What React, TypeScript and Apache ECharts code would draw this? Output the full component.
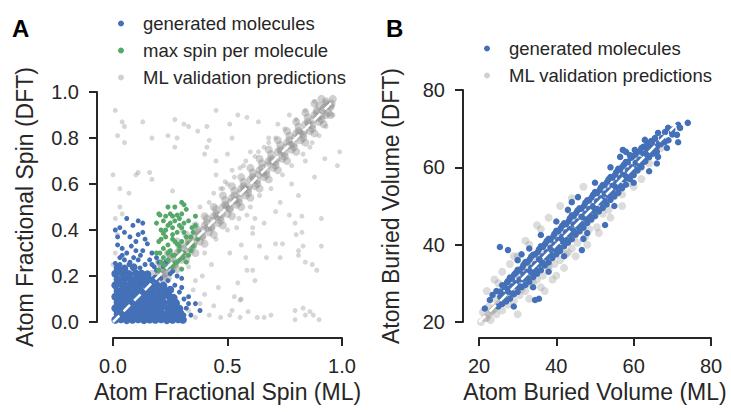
import React, { useEffect, useRef } from "react";
import * as echarts from "echarts";

// ---------- Panel A: Atom Fractional Spin (ML x, DFT y) ----------
const spinValidationBand = [
  [0.15,0.12],[0.16,0.18],[0.17,0.21],[0.18,0.15],[0.2,0.17],[0.2,0.22],[0.21,0.25],[0.22,0.19],
  [0.23,0.21],[0.24,0.26],[0.25,0.29],[0.26,0.23],[0.27,0.25],[0.28,0.3],[0.29,0.33],[0.3,0.27],
  [0.31,0.29],[0.32,0.33],[0.33,0.36],[0.34,0.31],[0.35,0.33],[0.36,0.37],[0.37,0.4],[0.38,0.35],
  [0.39,0.37],[0.4,0.42],[0.41,0.45],[0.42,0.39],[0.43,0.41],[0.44,0.46],[0.45,0.49],[0.46,0.43],
  [0.47,0.44],[0.48,0.5],[0.49,0.53],[0.5,0.47],[0.51,0.49],[0.52,0.54],[0.53,0.57],[0.54,0.51],
  [0.55,0.52],[0.56,0.58],[0.57,0.61],[0.58,0.55],[0.59,0.56],[0.6,0.62],[0.61,0.65],[0.62,0.59],
  [0.63,0.6],[0.64,0.66],[0.65,0.69],[0.66,0.63],[0.67,0.64],[0.68,0.7],[0.69,0.73],[0.7,0.67],
  [0.71,0.68],[0.72,0.74],[0.73,0.77],[0.74,0.71],[0.75,0.72],[0.76,0.78],[0.77,0.81],[0.78,0.75],
  [0.79,0.76],[0.8,0.82],[0.81,0.85],[0.82,0.79],[0.83,0.8],[0.84,0.86],[0.85,0.89],[0.86,0.83],
  [0.87,0.84],[0.88,0.9],[0.89,0.92],[0.9,0.87],[0.91,0.88],[0.92,0.93],[0.93,0.96],[0.94,0.91],
  [0.95,0.94],[0.96,0.97],[0.93,0.9],[0.9,0.94],
  [0.155,0.16],[0.175,0.17],[0.195,0.2],[0.215,0.21],[0.235,0.24],[0.255,0.25],[0.275,0.28],[0.295,0.29],
  [0.315,0.32],[0.335,0.34],[0.355,0.35],[0.375,0.38],[0.395,0.4],[0.415,0.41],[0.435,0.44],[0.455,0.46],
  [0.475,0.47],[0.495,0.5],[0.515,0.52],[0.535,0.53],[0.555,0.56],[0.575,0.58],[0.595,0.59],[0.615,0.62],
  [0.635,0.64],[0.655,0.65],[0.675,0.68],[0.695,0.7],[0.715,0.71],[0.735,0.74],[0.755,0.76],[0.775,0.77],
  [0.795,0.8],[0.815,0.82],[0.835,0.83],[0.855,0.86],[0.875,0.88],[0.895,0.89],[0.915,0.92],[0.935,0.94],
  [0.955,0.95],
  [0.2,0.26],[0.24,0.3],[0.28,0.35],[0.32,0.38],[0.36,0.42],[0.4,0.46],[0.44,0.5],[0.48,0.55],
  [0.52,0.59],[0.56,0.63],[0.6,0.67],[0.64,0.71],[0.68,0.75],[0.72,0.79],[0.76,0.83],[0.8,0.87],
  [0.84,0.91],[0.88,0.95],[0.91,0.97],
  [0.24,0.19],[0.28,0.23],[0.32,0.27],[0.36,0.3],[0.4,0.34],[0.44,0.38],[0.48,0.42],[0.52,0.46],
  [0.56,0.5],[0.6,0.54],[0.64,0.58],[0.68,0.62],[0.72,0.66],[0.76,0.7],[0.8,0.74],[0.84,0.78],
  [0.88,0.82],[0.92,0.86],[0.95,0.9],
  [0.21,0.23],[0.25,0.27],[0.29,0.31],[0.33,0.35],[0.37,0.39],[0.41,0.43],[0.45,0.47],[0.49,0.51],
  [0.53,0.55],[0.57,0.59],[0.61,0.63],[0.65,0.67],[0.69,0.71],[0.73,0.75],[0.77,0.79],[0.81,0.83],
  [0.85,0.87],[0.89,0.91],[0.93,0.95],
  [0.23,0.215],[0.27,0.255],[0.31,0.295],[0.35,0.335],[0.39,0.375],[0.43,0.415],[0.47,0.455],[0.51,0.495],
  [0.55,0.535],[0.59,0.575],[0.63,0.615],[0.67,0.655],[0.71,0.695],[0.75,0.735],[0.79,0.775],[0.83,0.815],
  [0.87,0.855],[0.91,0.895],[0.95,0.935],
];

const spinValidationScatter = [
  [0.3,0.4],[0.33,0.24],[0.36,0.46],[0.4,0.3],[0.42,0.52],[0.45,0.36],[0.48,0.58],[0.5,0.4],
  [0.53,0.63],[0.55,0.45],[0.57,0.68],[0.6,0.5],[0.62,0.72],[0.64,0.55],[0.66,0.76],[0.69,0.58],
  [0.71,0.8],[0.74,0.64],[0.75,0.84],[0.78,0.68],[0.8,0.88],[0.83,0.73],[0.84,0.92],[0.87,0.78],
  [0.88,0.96],[0.9,0.81],[0.93,0.85],[0.96,0.9],[0.38,0.5],[0.44,0.56],[0.52,0.66],[0.58,0.7],
  [0.68,0.8],[0.72,0.86],[0.5,0.6],[0.6,0.74],[0.77,0.9],[0.86,0.76],
  [0.01,0.92],[0.04,0.87],[0.05,0.85],[0.13,0.87],[0.02,0.81],[0.17,0.8],[0.24,0.81],[0.28,0.8],
  [0.27,0.88],[0.31,0.86],[0.33,0.85],[0.37,0.83],[0.41,0.85],[0.45,0.92],[0.42,0.79],[0.41,0.76],
  [0.4,0.73],[0.27,0.76],[0.05,0.78],[0.0,0.64],[0.1,0.64],[0.16,0.65],[0.11,0.65],[0.17,0.62],
  [0.03,0.58],[0.07,0.56],[0.26,0.57],[0.45,0.7],[0.45,0.64],[0.49,0.61],[0.47,0.58],
  [0.585,0.465],[0.62,0.45],[0.71,0.48],[0.77,0.465],[0.825,0.46],[0.91,0.45],[0.73,0.52],[0.795,0.43],
  [0.66,0.43],[0.61,0.41],[0.54,0.41],[0.825,0.39],[0.8,0.38],[0.61,0.385],[0.71,0.34],[0.74,0.34],
  [0.64,0.33],[0.56,0.335],[0.83,0.33],[0.91,0.33],[0.81,0.31],[0.51,0.3],[0.58,0.28],[0.67,0.28],
  [0.73,0.28],[0.81,0.29],[0.84,0.26],[0.87,0.25],[0.89,0.225],[0.585,0.225],[0.61,0.225],[0.62,0.18],
  [0.545,0.17],[0.53,0.11],[0.56,0.1],[0.555,0.095],[0.52,0.05],[0.59,0.045],[0.63,0.02],[0.66,0.02],
  [0.69,0.03],[0.795,0.05],[0.83,0.06],[0.86,0.045],[0.875,0.03],[0.84,0.03],[0.9,0.01],[0.795,0.01],
  [0.51,0.03],[0.555,0.02],[0.51,0.86],[0.545,0.9],[0.585,0.89],[0.635,0.87],[0.52,0.8],[0.635,0.74],
  [0.68,0.78],[0.5,0.73],[0.555,0.67],[0.84,0.7],[0.925,0.71],[0.99,0.74],[0.88,0.63],[0.78,0.6],
  [0.81,0.55],[0.98,0.68],[0.01,0.3],[0.02,0.38],[0.01,0.45],[0.03,0.5],[0.0,0.25],[0.04,0.47],
  [0.33,0.05],[0.36,0.02],[0.38,0.08],[0.4,0.12],[0.42,0.03],[0.35,0.14],[0.44,0.07],[0.47,0.02],
  [0.39,0.2],[0.43,0.25],[0.36,0.18],[0.46,0.15],
];

const spinGeneratedDense = [
  [0.01,0.01],[0.035,0.012],[0.06,0.008],[0.085,0.01],[0.11,0.012],[0.135,0.009],[0.16,0.011],[0.185,0.01],
  [0.21,0.012],[0.235,0.008],[0.26,0.01],[0.285,0.012],[0.305,0.01],
  [0.02,0.035],[0.045,0.033],[0.07,0.036],[0.095,0.034],[0.12,0.037],[0.145,0.035],[0.17,0.033],[0.195,0.036],
  [0.22,0.034],[0.245,0.036],[0.27,0.035],[0.295,0.037],
  [0.01,0.06],[0.035,0.062],[0.06,0.058],[0.085,0.061],[0.11,0.059],[0.135,0.062],[0.16,0.06],[0.185,0.058],
  [0.21,0.061],[0.24,0.06],[0.265,0.062],[0.29,0.058],
  [0.02,0.085],[0.045,0.087],[0.07,0.084],[0.095,0.086],[0.12,0.085],[0.145,0.088],[0.17,0.084],[0.195,0.086],
  [0.22,0.085],[0.25,0.087],[0.275,0.083],
  [0.01,0.11],[0.035,0.112],[0.06,0.109],[0.085,0.111],[0.11,0.11],[0.135,0.108],[0.16,0.112],[0.185,0.11],
  [0.215,0.109],[0.245,0.112],[0.265,0.105],
  [0.02,0.135],[0.045,0.137],[0.07,0.134],[0.095,0.136],[0.12,0.135],[0.145,0.133],[0.17,0.137],[0.2,0.135],
  [0.23,0.132],[0.25,0.14],
  [0.01,0.16],[0.04,0.162],[0.065,0.158],[0.09,0.161],[0.115,0.16],[0.14,0.163],[0.165,0.159],[0.19,0.16],
  [0.22,0.158],
  [0.02,0.185],[0.05,0.187],[0.08,0.183],[0.105,0.186],[0.13,0.185],[0.16,0.182],[0.185,0.188],
  [0.01,0.21],[0.04,0.212],[0.07,0.208],[0.1,0.211],[0.125,0.21],[0.15,0.207],
  [0.02,0.235],[0.05,0.232],[0.09,0.238],
];

const spinGeneratedSparse = [
  [0.087,0.42],[0.05,0.39],[0.13,0.39],[0.074,0.37],[0.02,0.335],[0.15,0.34],[0.1,0.31],[0.04,0.29],
  [0.16,0.27],[0.01,0.255],[0.074,0.26],[0.19,0.225],[0.118,0.235],[0.06,0.45],[0.11,0.44],[0.03,0.41],
  [0.14,0.36],[0.08,0.33],[0.12,0.29],[0.05,0.27],[0.17,0.3],[0.2,0.26],[0.09,0.28],[0.14,0.25],
  [0.03,0.25],[0.22,0.24],[0.21,0.19],[0.24,0.18],[0.27,0.16],[0.29,0.13],[0.31,0.1],[0.33,0.11],
  [0.36,0.08],[0.38,0.05],[0.34,0.03],[0.32,0.06],[0.3,0.19],[0.28,0.2],[0.25,0.21],[0.06,0.3],
  [0.1,0.35],[0.02,0.37],[0.13,0.31],[0.18,0.24],[0.31,0.03],[0.33,0.08],[0.3,0.15],
  [0.03,0.28],[0.11,0.27],[0.19,0.28],[0.23,0.26],[0.04,0.32],[0.11,0.38],[0.01,0.4],
  [0.13,0.43],[0.17,0.25],[0.26,0.22],[0.24,0.24],[0.07,0.25],
];

const spinMaxPerMolecule = [
  [0.3,0.52],[0.24,0.5],[0.32,0.49],[0.205,0.465],[0.28,0.465],[0.36,0.46],[0.19,0.43],[0.24,0.42],
  [0.3,0.41],[0.345,0.41],[0.22,0.385],[0.26,0.38],[0.32,0.37],[0.37,0.36],[0.2,0.35],[0.24,0.335],
  [0.29,0.33],[0.34,0.31],[0.205,0.3],[0.26,0.29],[0.305,0.28],[0.21,0.26],[0.27,0.255],[0.23,0.235],
  [0.2,0.225],[0.25,0.47],[0.27,0.44],[0.22,0.44],[0.29,0.45],[0.33,0.44],[0.31,0.43],[0.26,0.41],
  [0.21,0.4],[0.28,0.39],[0.35,0.39],[0.23,0.37],[0.3,0.35],[0.27,0.35],[0.33,0.34],[0.22,0.32],
  [0.25,0.31],[0.29,0.31],[0.31,0.3],[0.24,0.27],[0.28,0.26],[0.32,0.26],[0.26,0.24],[0.3,0.23],
  [0.22,0.28],[0.19,0.3],[0.35,0.33],[0.36,0.42],[0.2,0.47],[0.27,0.5],[0.31,0.51],[0.23,0.46],
  [0.25,0.43],[0.29,0.42],[0.23,0.4],[0.31,0.39],[0.26,0.36],[0.21,0.36],[0.28,0.34],[0.24,0.3],
  [0.27,0.29],[0.33,0.29],[0.25,0.25],[0.29,0.27],[0.22,0.25],[0.34,0.37],[0.26,0.46],[0.3,0.47],
];

const spinParity = [[0, 0], [0.97, 0.97]];

// ---------- Panel B: Atom Buried Volume (ML x, DFT y) ----------
const volValidation = [
  [20.5,20],[21,22.5],[22,21],[22.5,24],[23,20.5],[23.5,23],[24,26],[24.5,22],[25,24.5],[25.5,27.5],
  [26,23],[26.5,26],[27,29],[27.5,24.5],[28,27],[28.5,30.5],[29,25.5],[29.5,28.5],[30,32],[30.5,27],
  [31,30],[31.5,33.5],[32,28],[32.5,31],[33,35],[33.5,29.5],[34,32.5],[34.5,36],[35,31],[35.5,34],
  [36,37.5],[36.5,32],[37,35],[37.5,39],[38,33.5],[38.5,36.5],[39,40],[39.5,35],[40,38],[40.5,41.5],
  [41,36],[41.5,39.5],[42,43],[42.5,37.5],[43,41],[43.5,44.5],[44,39],[44.5,42],[45,46],[45.5,40.5],
  [46,43.5],[47,45],[47.5,42],[48,48],[48.5,44],[49,46.5],[50,47.5],[50.5,44.5],[51,50],[52,48],
  [53,51],[53.5,49],[55,52.5],[56,54],[57,53],[58,57],[59,56],[60,58.5],[62,60],[63,62],[64,61],
  [65,64],[67,65],
  [24,31],[26,33],[28,35],[30,37],[33,40],[36,44],[27,19],[30,22],[33,26],[36,29],[39,31],[42,34],
  [45,37],[48,40],[51,43],[54,47],[57,50],[29,37],[32,41],[35,45],[38,47],[41,50],[25,30],[22,28],
  [44,52],[47,55],[60,55],[62,57],[40,32],[37,28],[21,19.5],[22.5,22],[24,23.5],[25.5,25],[27,26.5],
  [21.5,21],[23,22.5],[24.5,24],[26,25.5],[27.5,27],[29,28.5],[31,28.5],[34,30],[38,34.5],[43,38],
];

const volGenerated = [
  [25,24],[25.5,26.5],[24.5,28],[26,24.7],[26.5,27],[26,29.5],[27,25.3],[27.5,28.5],[27.2,30.2],
  [28,26],[28.5,29.2],[28,31.5],[29,27.2],[29.5,30],[29.1,32.3],[30,27.8],[30.5,31],[30,33.5],
  [31,29],[31.5,32.2],[31.2,34.1],[32,29.6],[32.5,33],[32,35.5],[33,30.4],[33.5,34],[33.1,36.2],
  [34,31.6],[34.5,35],[34,37.4],[35,32.5],[35.5,36.2],[35.2,38.1],[36,33.4],[36.5,37],[36,39.6],
  [37,34.6],[37.5,38],[37.1,40.2],[38,35.4],[38.5,39.2],[38,41.5],[39,36.6],[39.5,40],[39.2,42.1],
  [40,37.5],[40.5,41.2],[40,43.6],[41,38.4],[41.5,42],[41.1,44.2],[42,39.6],[42.5,43.2],[42,45.5],
  [43,40.5],[43.5,44],[43.2,46.1],[44,41.4],[44.5,45.2],[44,47.6],[45,42.6],[45.5,46],[45.1,48.2],
  [46,43.5],[46.5,47.2],[46,49.4],[47,44.4],[47.5,48],[47.2,50.1],[48,45.6],[48.5,49.2],[48,51.5],
  [49,46.5],[49.5,50],[49.1,52.2],[50,47.4],[50.5,51.2],[50,53.6],[51,48.6],[51.5,52],[51.2,54.1],
  [52,49.5],[52.5,53.2],[52,55.4],[53,50.4],[53.5,54],[53.1,56.2],[54,51.6],[54.5,55.2],[54,57.5],
  [55,52.5],[55.5,56],[55.2,58.1],[56,53.4],[56.5,57.2],[56,59.6],[57,54.6],[57.5,58],[57.1,60.2],
  [58,55.5],[58.5,59.2],[58,61.4],[59,57],[59.5,60],[59.2,62.4],[60,58],[60.5,61.2],[60,63],
  [61,59.2],[61.5,62],[62,60.1],[62.5,63.5],[63,61.5],[63.5,64.5],[64,62.6],[64.5,65.5],
  [26.5,25.8],[27.5,27.9],[28.5,27.5],[29.5,29.4],[30.5,29.2],[31.5,31.1],[32.5,31.4],[33.5,32.8],
  [34.5,33.6],[35.5,34.9],[36.5,35.3],[37.5,36.7],[38.5,37.6],[39.5,38.8],[40.5,39.4],[41.5,40.9],
  [42.5,41.3],[43.5,42.6],[44.5,43.5],[45.5,44.8],[46.5,45.4],[47.5,46.7],[48.5,47.6],[49.5,48.8],
  [50.5,49.3],[51.5,50.9],[52.5,51.4],[53.5,52.7],[54.5,53.6],[55.5,54.8],[56.5,55.3],[57.5,56.9],
  [58.5,57.5],[59.5,58.6],[60.5,59.5],[61.5,60.8],[62.5,61.4],[63.5,62.9],[64.5,63.6],[65.5,64.7],
  [25.5,27.9],[26.5,29.1],[27.5,30.6],[28.5,31.2],[29.5,32.7],[30.5,33.3],[31.5,34.8],[32.5,35.4],
  [33.5,36.9],[34.5,37.5],[35.5,38.8],[36.5,39.4],[37.5,40.9],[38.5,41.3],[39.5,42.8],[40.5,43.4],
  [41.5,44.9],[42.5,45.3],[43.5,46.8],[44.5,47.4],[45.5,48.9],[46.5,49.3],[47.5,50.8],[48.5,51.4],
  [49.5,52.9],[50.5,53.3],[51.5,54.8],[52.5,55.4],[53.5,56.9],[54.5,57.3],[55.5,58.8],[56.5,59.4],
  [57.5,60.7],[58.5,61.3],[59.5,62.6],[60.5,63.4],[61.5,64.1],[62.5,65.3],[63.5,66],[64.5,66.8],
  [65.5,67.4],[66.5,66.2],[67.5,67],[66,64],[68,66.5],[70,69.8],
  [45.6,52.3],[52.6,45.1],[57.2,58],[46.6,38.6],[25.4,39.4],[27.5,38.6],[30,36],[33,39],[36,42.5],
  [40,46],[43,49],[29,24],[34,29],[38,33],[42,37],[48,43],[55,50],[60,56],[62,65],[58,64],[54,60],
  [50,56],[66,61],[64,59],[35.5,26],[31,37.5],[44,51],[47,41.5],
  [74,71.5],[71.5,71],[72,70.2],[71.2,68.4],[71.5,66.5],[68.9,70.2],[68.1,69.1],[69.9,69.1],
  [66.3,68.9],[67.3,67.6],[65.5,67.6],[68.6,65],[62.9,67.1],[64.7,66.3],[66,65.3],[57.2,64.5],
  [59,63.2],[56.5,62.7],[60.3,64.5],[66.3,62.7],[65,63.5],[67,66],[63,63],[69,67],[70,68.5],
  [22.8,25.7],[21.5,23.5],[23.5,27],[34.5,25.7],
];

const volParity = [[20, 20], [71, 71]];

const FONT = "Liberation Sans, Arial, Helvetica, sans-serif";
const INK = "#262626";
const BLUE = "#4470b8";
const GREEN = "#55a868";
const GRAY = "#8a8a8a";

function axisCommon(min: number, max: number, interval: number, decimals: number) {
  return {
    type: "value" as const,
    min,
    max,
    interval,
    offset: 16,
    splitLine: { show: false },
    axisLine: { show: true, onZero: false, lineStyle: { color: INK, width: 2 } },
    axisTick: { show: true, length: 8, lineStyle: { color: INK, width: 2 } },
    axisLabel: {
      color: INK,
      fontSize: 20,
      fontFamily: FONT,
      margin: 18,
      formatter: (v: number) => v.toFixed(decimals),
    },
    nameLocation: "middle" as const,
    nameTextStyle: { color: INK, fontSize: 23, fontFamily: FONT },
  };
}

const legendBase = {
  orient: "vertical" as const,
  padding: 0,
  itemGap: 8,
  itemWidth: 28,
  itemHeight: 6,
  icon: "circle",
  textStyle: { color: INK, fontSize: 18.5, fontFamily: FONT, padding: [0, 0, 0, 3] },
};

export default function App() {
  const ref = useRef<HTMLDivElement>(null);
  useEffect(() => {
    if (!ref.current) return;
    const chart = echarts.init(ref.current, undefined, { renderer: "svg" });
    chart.setOption({
      animation: false,
      backgroundColor: "#ffffff",
      title: [
        { text: "A", left: 12, top: 16, padding: 0, textStyle: { fontSize: 24, fontWeight: "bold", color: "#000", fontFamily: FONT } },
        { text: "B", left: 386, top: 16, padding: 0, textStyle: { fontSize: 24, fontWeight: "bold", color: "#000", fontFamily: FONT } },
      ],
      legend: [
        {
          ...legendBase,
          data: ["generated molecules", "max spin per molecule", "ML validation predictions"],
          left: 118,
          top: 14,
        },
        {
          ...legendBase,
          data: ["generated molecules", "ML validation predictions"],
          left: 484,
          top: 39,
        },
      ],
      grid: [
        { left: 113, top: 92, width: 229, height: 230 },
        { left: 479, top: 90, width: 232, height: 232 },
      ],
      xAxis: [
        { ...axisCommon(0, 1, 0.5, 1), gridIndex: 0, name: "Atom Fractional Spin (ML)", nameGap: 32 },
        { ...axisCommon(20, 80, 20, 0), gridIndex: 1, name: "Atom Buried Volume (ML)", nameGap: 32 },
      ],
      yAxis: [
        { ...axisCommon(0, 1, 0.2, 1), gridIndex: 0, name: "Atom Fractional Spin (DFT)", nameGap: 61 },
        { ...axisCommon(20, 80, 20, 0), gridIndex: 1, name: "Atom Buried Volume (DFT)", nameGap: 61 },
      ],
      series: [
        {
          name: "ML validation predictions", type: "scatter", xAxisIndex: 0, yAxisIndex: 0,
          symbolSize: 8, itemStyle: { color: GRAY, opacity: 0.4 }, data: spinValidationBand, silent: true,
        },
        {
          name: "ML validation predictions", type: "scatter", xAxisIndex: 0, yAxisIndex: 0,
          symbolSize: 5, itemStyle: { color: GRAY, opacity: 0.35 }, data: spinValidationScatter, silent: true,
        },
        {
          name: "generated molecules", type: "scatter", xAxisIndex: 0, yAxisIndex: 0,
          symbolSize: 8, itemStyle: { color: BLUE, opacity: 1 }, data: spinGeneratedDense, silent: true,
        },
        {
          name: "generated molecules", type: "scatter", xAxisIndex: 0, yAxisIndex: 0,
          symbolSize: 5, itemStyle: { color: BLUE, opacity: 1 }, data: spinGeneratedSparse, silent: true,
        },
        {
          name: "max spin per molecule", type: "scatter", xAxisIndex: 0, yAxisIndex: 0,
          symbolSize: 5, itemStyle: { color: GREEN, opacity: 1 }, data: spinMaxPerMolecule, silent: true,
        },
        {
          name: "parityA", type: "line", xAxisIndex: 0, yAxisIndex: 0, data: spinParity,
          symbol: "none", silent: true, z: 10,
          lineStyle: { color: "#ffffff", width: 2.5, type: [9, 6], opacity: 1 },
        },
        {
          name: "ML validation predictions", type: "scatter", xAxisIndex: 1, yAxisIndex: 1,
          symbolSize: 8, itemStyle: { color: GRAY, opacity: 0.3 }, data: volValidation, silent: true,
        },
        {
          name: "generated molecules", type: "scatter", xAxisIndex: 1, yAxisIndex: 1,
          symbolSize: 6.5, itemStyle: { color: BLUE, opacity: 1 }, data: volGenerated, silent: true,
        },
        {
          name: "parityB", type: "line", xAxisIndex: 1, yAxisIndex: 1, data: volParity,
          symbol: "none", silent: true, z: 10,
          lineStyle: { color: "#ffffff", width: 2.5, type: [9, 6], opacity: 1 },
        },
      ],
    });
    return () => chart.dispose();
  }, []);
  return (
    <div
      ref={ref}
      style={{ position: "fixed", left: 0, top: 0, width: 731, height: 412, background: "#fff" }}
    />
  );
}
